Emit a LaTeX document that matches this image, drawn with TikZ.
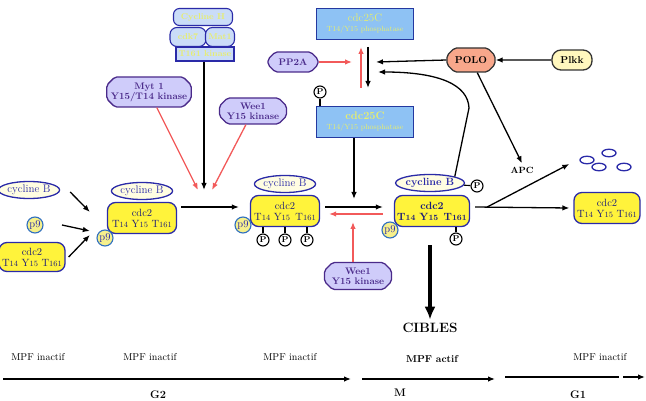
\documentclass[tikz,border=0pt]{standalone}
\usepackage{tikz}
\usetikzlibrary{shapes,arrows,arrows.meta,positioning}

\definecolor{cdcyel}{HTML}{FFF33B}
\definecolor{cdcline}{HTML}{2A2AA8}
\definecolor{cdctext}{HTML}{1E1E78}
\definecolor{cycfill}{HTML}{FFFDE2}
\definecolor{pnline}{HTML}{2F6FC0}
\definecolor{pnfill}{HTML}{F6F08C}
\definecolor{kinfill}{HTML}{CFCCFA}
\definecolor{kinline}{HTML}{4A2A8A}
\definecolor{phfill}{HTML}{8EC2F4}
\definecolor{phline}{HTML}{2438A0}
\definecolor{phtext}{HTML}{E8EE6C}
\definecolor{hfill}{HTML}{CADCF8}
\definecolor{polofill}{HTML}{F8A78B}
\definecolor{plkfill}{HTML}{FFF7BE}
\definecolor{inhred}{HTML}{F25A5A}

% residue with small figures
\newcommand{\siteres}[2]{#1{\fontsize{8}{9}\selectfont#2}}
\newcommand{\cdcsites}{\siteres{T}{14} \siteres{Y}{15} \siteres{T}{161}}

\begin{document}
\begin{tikzpicture}[x=1pt, y=-1pt, >={Latex[length=7pt,width=5.5pt]}, font=\fontsize{10}{11}\selectfont,
    cdc/.style={rectangle, rounded corners=8pt, draw=cdcline, line width=1.3pt, fill=cdcyel, text=cdctext, align=center, inner sep=0pt, minimum width=69pt, minimum height=31pt, font=\fontsize{10.5}{11}\selectfont},
    cyc/.style={ellipse, draw=cdcline, line width=1.3pt, fill=cycfill, text=cdcline, inner sep=0pt, minimum width=60pt, minimum height=17pt, font=\fontsize{11}{12}\selectfont},
    pnine/.style={circle, draw=pnline, line width=1.1pt, fill=pnfill, text=cdcline, inner sep=0pt, minimum size=16pt, font=\fontsize{10.5}{11}\selectfont},
    phos/.style={circle, draw, line width=1.1pt, fill=white, inner sep=0pt, minimum size=12pt, font=\fontsize{8.5}{9}\selectfont\bfseries},
    kin/.style={chamfered rectangle, chamfered rectangle xsep=4pt, chamfered rectangle ysep=4pt, rounded corners=2pt, draw=kinline, line width=1.3pt, fill=kinfill, text=kinline, align=center, inner sep=0pt, font=\fontsize{9.5}{10}\selectfont\bfseries},
    ph/.style={rectangle, draw=phline, line width=1.3pt, fill=phfill, text=phtext, align=center, inner sep=0pt, minimum width=97pt, minimum height=31pt, font=\fontsize{11}{12}\selectfont},
    hk/.style={draw=cdcline, line width=1.1pt, fill=hfill, text=phtext, inner sep=0pt, font=\fontsize{8.5}{9}\selectfont\bfseries},
    act/.style={->, line width=1.3pt},
    inh/.style={->, line width=1.3pt, draw=inhred, fill=inhred},
    mpf/.style={font=\fontsize{10}{11}\selectfont},
    phase/.style={font=\fontsize{11}{12}\selectfont\bfseries}]
    \useasboundingbox (0,0) rectangle (646,401);

    % free partners
    \node (cycl) [cyc, minimum width=58pt] at (29,190) {cycline B};
    \node (p9l)  [pnine] at (35,225) {p9};
    \node (cdcl) [cdc, minimum width=66pt, minimum height=29pt] at (32,257) {cdc2\\\cdcsites};

    % complexes
    \node (cycA) [cyc] at (142,191) {cycline B};
    \node (cdcA) [cdc] at (142,218) {cdc2\\\cdcsites};
    \node (p9A)  [pnine] at (105,238) {p9};

    \node (cycB) [cyc] at (285,184) {cycline B};
    \node (cdcB) [cdc] at (285,211) {cdc2\\\siteres{T}{14} \siteres{Y}{15}\enspace\siteres{T}{161}};
    \node (p9B)  [pnine] at (243,225) {p9};
    \foreach \n/\x in {1/263, 2/285, 3/307} {
        \node (pB\n) [phos] at (\x,240) {P};
        \draw [line width=1.1pt] (pB\n) -- (pB\n |- cdcB.south);
    }

    \node (cycC) [cyc, minimum width=66pt, font=\fontsize{10.5}{11}\selectfont\bfseries] at (430,183) {cycline B};
    \node (cdcC) [cdc, minimum width=75pt, font=\fontsize{10.5}{11}\selectfont\bfseries] at (432,211) {cdc2\\\siteres{T}{14} \siteres{Y}{15}\enspace\siteres{T}{161}};
    \node (p9C)  [pnine] at (390,230) {p9};
    \node (pC1)  [phos] at (477,186) {P};
    \node (pC2)  [phos] at (456,239) {P};
    \draw [line width=1.1pt] (cycC) -- (pC1);
    \draw [line width=1.1pt] (pC2) -- (pC2 |- cdcC.south);

    \node (cdcD) [cdc, minimum width=66pt] at (607,208) {cdc2\\\cdcsites};
    \foreach \n/\x/\y in {1/587/160, 2/609/153, 3/599/167, 4/624/167}
        \node (e\n) [ellipse, draw=cdcline, line width=1.3pt, minimum width=14pt, minimum height=7.5pt, inner sep=0pt] at (\x,\y) {};

    % CAK
    \node (cych) [hk, rounded corners=6pt, minimum width=59pt, minimum height=17pt] at (203,17) {Cycline H};
    \node (cdk)  [hk, rounded corners=7pt, minimum width=36pt, minimum height=19pt] at (188,37) {cdk7};
    \node (mat)  [hk, rounded corners=7pt, minimum width=29pt, minimum height=19pt] at (220,37) {Mat1};
    \node (tk)   [hk, minimum width=58pt, minimum height=14pt] at (205,54) {T161 kinase};

    % kinases, phosphatases
    \node (myt)  [kin, minimum width=82pt, minimum height=30pt] at (149,92) {Myt 1\\Y15/T14 kinase};
    \node (weeA) [kin, minimum width=67pt, minimum height=26pt] at (253,111) {Wee1\\Y15 kinase};
    \node (weeB) [kin, minimum width=67pt, minimum height=27pt] at (358,276) {Wee1\\Y15 kinase};
    \node (pp)   [kin, minimum width=50pt, minimum height=20pt] at (293,62) {PP2A};
    \node (ctop) [ph] at (365,24) {cdc25C\\[-2pt]{\fontsize{7.5}{8}\selectfont T14/Y15 phosphatase}};
    \node (cbot) [ph] at (365,122) {\textbf{cdc25C}\\[-2pt]{\fontsize{7.5}{8}\selectfont T14/Y15 phosphatase}};
    \node (pct)  [phos] at (320,92) {P};
    \draw [line width=1.1pt] (pct) -- (pct |- cbot.north);
    \node (polo) [kin, draw=black!80, fill=polofill, text=black, minimum width=48pt, minimum height=24pt, font=\fontsize{10}{11}\selectfont\bfseries] at (471,60) {POLO};
    \node (plk)  [rectangle, rounded corners=9pt, draw=black!80, line width=1.3pt, fill=plkfill, minimum width=40pt, minimum height=20pt, inner sep=0pt, font=\fontsize{10}{11}\selectfont\bfseries] at (572,60) {Plkk};
    \node (apc)  [font=\fontsize{9}{10}\selectfont\bfseries] at (522,170) {APC};
    \node (cib)  [font=\fontsize{13.5}{14}\selectfont\bfseries] at (430,328) {CIBLES};

    \coordinate (cak) at (204,190);
    \coordinate (mytin) at (198,190);
    \coordinate (weein) at (212,190);
    \coordinate (ppin) at (352,62);
    \coordinate (upA) at (361,88);
    \coordinate (upB) at (361,47);
    \coordinate (dnA) at (368,47);
    \coordinate (dnB) at (368,88);
    \coordinate (dn) at (354,199);
    \coordinate (wup) at (353,222);
    \coordinate (kink) at (469,108);
    \coordinate (cin) at (378,72);
    \coordinate (poloin) at (376,62);

    % assembly
    \draw [act] ([xshift=10pt,yshift=-2pt]cycl.east) -- ([xshift=-17pt,yshift=6pt]cdcA.west);
    \draw [act] ([xshift=27pt]p9l.center) -- ([xshift=-17pt,yshift=-6pt]cdcA.west |- p9l);
    \draw [act] ([xshift=3pt]cdcl.east) -- ([xshift=-17pt,yshift=-17pt]cdcA.west);
    \draw [act] ([xshift=4pt,yshift=11pt]cdcA.east) -- ([xshift=-11pt,yshift=4pt]cdcB.west);
    \draw [act] ([xshift=5pt,yshift=4pt]cdcB.east) -- ([xshift=-11pt,yshift=4pt]cdcC.west);
    \draw [inh] ([xshift=-11pt,yshift=-3pt]cdcC.west) -- ([xshift=9pt,yshift=-3pt]cdcB.east);
    \draw [act] ([xshift=5pt,yshift=4pt]cdcC.east) -- ([xshift=-4pt]cdcD.west);
    \draw [act] ([xshift=17pt,yshift=4pt]cdcC.east) -- ([xshift=-10pt,yshift=-4pt]e1.west);
    \draw [-{Latex[length=13pt,width=11pt]}, line width=3.5pt] ([yshift=-18pt]cdcC.south -| cib) -- (cib.north);

    % regulation
    \draw [act] (tk.south -| cak) -- (cak);
    \draw [inh] (myt) -- (mytin);
    \draw [inh] (weeA) -- (weein);
    \draw [inh] (wup |- weeB.north) -- (wup);
    \draw [inh] (pp.east) -- (ppin);
    \draw [inh] (upA) -- (upB);
    \draw [act] (dnA) -- (dnB);
    \draw [act] (dn |- cbot.south) -- (dn);
    \draw [act] (polo.west) -- (poloin);
    \draw [act] (plk) -- (polo);
    \draw [act] (polo) -- (apc.north);
    \draw [act] (cycC.north east) -- (kink) .. controls (468,85) and (440,72) .. (cin);

    % cycle phases
    \node (mpf1) [mpf] at (38,357) {MPF inactif};
    \node (mpf2) [mpf] at (150,357) {MPF inactif};
    \node (mpf3) [mpf] at (290,357) {MPF inactif};
    \node (mpf4) [mpf, font=\fontsize{10}{11}\selectfont\bfseries] at (432,359) {MPF actif};
    \node (mpf5) [mpf] at (600,357) {MPF inactif};

    \coordinate (g2s) at (3,379);
    \coordinate (g2e) at (351,379);
    \coordinate (ms) at (362,379);
    \coordinate (me) at (495,379);
    \coordinate (g1s) at (505,377);
    \coordinate (g1m) at (619,377);
    \coordinate (g1d) at (623,377);
    \coordinate (g1e) at (645,377);
    \draw [act] (g2s) -- (g2e);
    \draw [act] (ms) -- (me);
    \draw [line width=1.3pt] (g1s) -- (g1m);
    \draw [act] (g1d) -- (g1e);

    \node (g2) [phase] at (158,395) {G2};
    \node (m)  [phase] at (400,393) {M};
    \node (g1) [phase] at (578,395) {G1};
\end{tikzpicture}
\end{document}
